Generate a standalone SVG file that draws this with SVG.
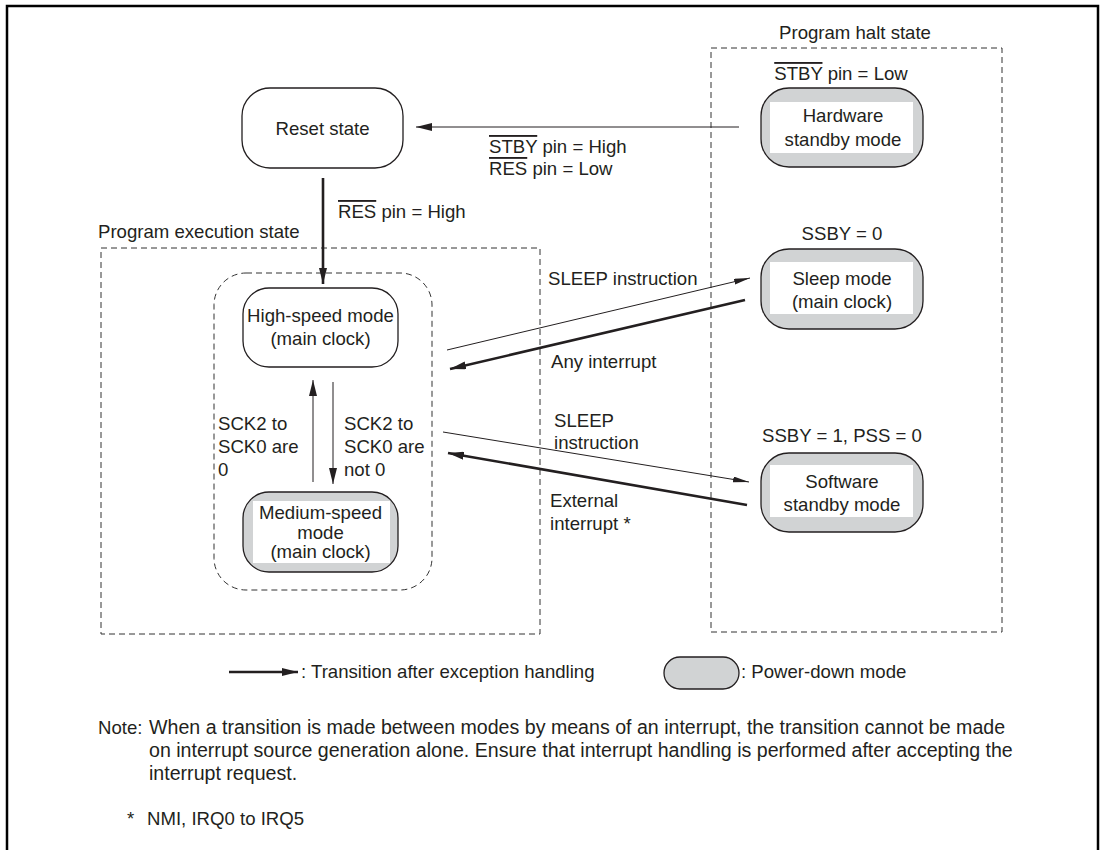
<svg xmlns="http://www.w3.org/2000/svg" width="1100" height="850" viewBox="0 0 1100 850">
<defs>
<style>
text{font-family:"Liberation Sans",Arial,sans-serif;font-size:18.6px;fill:#231f20}
.c{text-anchor:middle}
.ol{text-decoration:overline}
.nt{font-size:19.6px}
.frame{fill:none;stroke:#000;stroke-width:2.5}
.dash{fill:none;stroke:#333;stroke-width:1;stroke-dasharray:6,4}
.node{fill:#fff;stroke:#231f20;stroke-width:1.3}
.pd{fill:#d1d3d4;stroke:#231f20;stroke-width:1.3}
.inner{fill:#fff;stroke:none}
.thin{fill:none;stroke:#231f20;stroke-width:1}
.thick{fill:none;stroke:#231f20;stroke-width:2.6}
</style>
<marker id="ah" viewBox="0 0 16 6" refX="16" refY="3" markerWidth="16" markerHeight="6" markerUnits="userSpaceOnUse" orient="auto">
<path d="M0,0 L16,3 L0,6 Z" fill="#231f20"/>
</marker>
<marker id="ahb" viewBox="0 0 16 8" refX="16" refY="4" markerWidth="16" markerHeight="8" markerUnits="userSpaceOnUse" orient="auto">
<path d="M0,0 L16,4 L0,8 Z" fill="#231f20"/>
</marker>
</defs>
<rect x="0" y="0" width="1100" height="850" fill="#fff"/>
<rect class="frame" x="7" y="6" width="1091" height="870"/>

<g id="halt-region">
<rect class="dash" x="711" y="48" width="291" height="584"/>
<text class="c" x="855" y="39">Program halt state</text>
</g>
<g id="exec-region">
<rect class="dash" x="101" y="248" width="439" height="386"/>
<text x="98" y="238">Program execution state</text>
<rect class="dash" x="214" y="273" width="218" height="317" rx="32"/>
</g>

<g id="reset">
<rect class="node" x="242" y="88" width="161" height="80" rx="28"/>
<text class="c" x="322.5" y="135">Reset state</text>
</g>
<g id="hw-standby">
<text class="c" x="841" y="80"><tspan class="ol">STBY</tspan> pin = Low</text>
<rect class="pd" x="761" y="88" width="162" height="79" rx="28"/>
<rect class="inner" x="770" y="102" width="143" height="51"/>
<text class="c" x="843" y="122">Hardware</text>
<text class="c" x="843" y="146">standby mode</text>
</g>
<g id="high-speed">
<rect class="node" x="243" y="288" width="155" height="79" rx="26"/>
<text class="c" x="320.5" y="322">High-speed mode</text>
<text class="c" x="320.5" y="345">(main clock)</text>
</g>
<g id="medium-speed">
<rect class="pd" x="243" y="492" width="155" height="80" rx="26"/>
<rect class="inner" x="253" y="501" width="137" height="62"/>
<text class="c" x="320.5" y="519">Medium-speed</text>
<text class="c" x="320.5" y="539">mode</text>
<text class="c" x="320.5" y="558">(main clock)</text>
</g>
<g id="sleep">
<text class="c" x="842" y="240">SSBY = 0</text>
<rect class="pd" x="761" y="249" width="162" height="80" rx="28"/>
<rect class="inner" x="770" y="262" width="143" height="52"/>
<text class="c" x="842" y="285">Sleep mode</text>
<text class="c" x="842" y="308">(main clock)</text>
</g>
<g id="sw-standby">
<text class="c" x="842" y="442">SSBY = 1, PSS = 0</text>
<rect class="pd" x="761" y="453" width="162" height="79" rx="28"/>
<rect class="inner" x="770" y="465" width="143" height="52"/>
<text class="c" x="842" y="488">Software</text>
<text class="c" x="842" y="511">standby mode</text>
</g>

<g id="connectors">
<line class="thin" x1="739" y1="127" x2="416" y2="127" marker-end="url(#ahb)"/>
<text x="489" y="153"><tspan class="ol">STBY</tspan> pin = High</text>
<text x="489" y="175"><tspan class="ol">RES</tspan> pin = Low</text>
<line class="thick" x1="323" y1="178" x2="323" y2="284" marker-end="url(#ahb)"/>
<text x="338" y="218"><tspan class="ol">RES</tspan> pin = High</text>
<line class="thin" x1="313" y1="482" x2="313" y2="380" marker-end="url(#ahb)"/>
<line class="thin" x1="333" y1="382" x2="333" y2="484" marker-end="url(#ahb)"/>
<text x="218" y="430">SCK2 to</text>
<text x="218" y="453">SCK0 are</text>
<text x="218" y="476">0</text>
<text x="344" y="430">SCK2 to</text>
<text x="344" y="453">SCK0 are</text>
<text x="344" y="476">not 0</text>
<line class="thin" x1="447" y1="350" x2="750" y2="278" marker-end="url(#ah)"/>
<text x="548" y="285">SLEEP instruction</text>
<line class="thick" x1="745" y1="300" x2="450" y2="369" marker-end="url(#ahb)"/>
<text x="551" y="368">Any interrupt</text>
<line class="thin" x1="443" y1="432" x2="749" y2="482" marker-end="url(#ah)"/>
<text x="554" y="427">SLEEP</text>
<text x="554" y="449">instruction</text>
<line class="thick" x1="747" y1="505" x2="448" y2="453" marker-end="url(#ahb)"/>
<text x="550" y="507">External</text>
<text x="550" y="530">interrupt *</text>
</g>

<g id="legend">
<line class="thick" x1="229" y1="672" x2="298" y2="672" marker-end="url(#ahb)"/>
<text x="301" y="678">: Transition after exception handling</text>
<rect class="pd" x="664" y="657" width="75" height="32" rx="16"/>
<text x="741" y="678">: Power-down mode</text>
</g>
<g id="note">
<text x="98" y="734">Note:</text>
<text class="nt" x="149" y="734">When a transition is made between modes by means of an interrupt, the transition cannot be made</text>
<text class="nt" x="149" y="757">on interrupt source generation alone. Ensure that interrupt handling is performed after accepting the</text>
<text class="nt" x="149" y="780">interrupt request.</text>
<text x="127" y="825">*</text>
<text x="147" y="825">NMI, IRQ0 to IRQ5</text>
</g>
</svg>
